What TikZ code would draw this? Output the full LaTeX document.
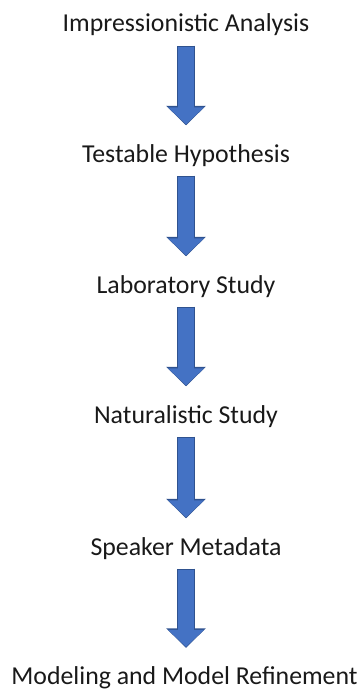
\documentclass[tikz,border=0pt]{standalone}
\usepackage{fontspec}
\setmainfont{Carlito}
\usetikzlibrary{arrows.meta}

\definecolor{flowfill}{HTML}{4472C4}
\definecolor{flowline}{HTML}{2F528F}

\begin{document}
\begin{tikzpicture}[x=1pt,y=1pt,
  stage/.style={anchor=base,inner sep=0pt,text height=17pt,text depth=6pt,
    text=black!90,font=\fontsize{25.8}{31}\selectfont},
  flow/.style={draw=flowline,line width=18pt,shorten <=7.5pt,shorten >=19.5pt,
    -{Triangle[length=19.5pt,width=38.5pt]},
    postaction={draw=flowfill,line width=16pt,shorten <=8.5pt,shorten >=20.5pt,
      -{Triangle[length=17pt,width=35pt]}}}]

\useasboundingbox (0,0) rectangle (363,-690);

% ---- the six stages, one baseline every ~131pt ----
\node[stage] (impr)  at (186,-32)  {Impressionistic Analysis};
\node[stage] (hyp)   at (186,-162) {Testable Hypothesis};
\node[stage] (lab)   at (186,-293) {Laboratory Study};
\node[stage] (nat)   at (186,-423) {Naturalistic Study};
\node[stage] (meta)  at (186,-555) {Speaker Metadata};
\node[stage] (model) at (184.5,-684.5) {Modeling and Model Refinement};

% ---- block arrows between them ----
\draw[flow] (impr) -- (hyp);
\draw[flow] (hyp)  -- (lab);
\draw[flow] (lab)  -- (nat);
\draw[flow] (nat)  -- (meta);
\draw[flow] (meta) -- (meta |- model.north);

\end{tikzpicture}
\end{document}
